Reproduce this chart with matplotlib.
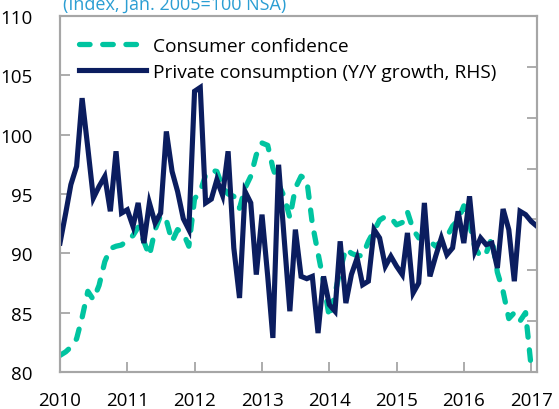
import matplotlib
matplotlib.use("Agg")
import matplotlib.pyplot as plt
import matplotlib.dates as mdates
import pandas as pd

plt.rcParams['font.family'] = ['Open Sans', 'DejaVu Sans']

# monthly data, Jan 2010 onwards
start = '2010-01-01'

# consumer confidence (index, LHS), Jan 2010 - Jan 2017
confidence = [81.4, 81.7, 82.1, 82.8, 84.6, 86.8, 86.1, 87.3, 89.3, 90.4, 90.6, 90.7,
              91.1, 91.5, 92.2, 91.0, 89.8, 92.0, 93.2, 92.8, 91.0, 92.0, 91.7, 90.6,
              94.6, 95.2, 96.6, 97.0, 96.9, 95.6, 95.0, 94.8, 93.8, 95.5, 96.5, 98.3,
              99.3, 99.1, 97.2, 95.8, 94.8, 93.0, 95.5, 96.5, 96.2, 92.5, 90.0, 87.6,
              84.6, 86.6, 88.6, 90.4, 90.0, 89.8, 89.8, 91.0, 91.9, 92.8, 93.1, 93.0,
              92.4, 92.6, 93.5, 92.0, 91.3, 91.5, 91.0, 90.6, 91.0, 91.4, 92.3, 92.8,
              94.0, 92.5, 90.5, 89.7, 90.0, 91.3, 88.4, 86.8, 84.5, 85.0, 84.3, 85.0,
              80.3]

# private consumption, Y/Y growth % (RHS), Jan 2010 - Feb 2017
consumption = [1.07, 2.25, 3.37, 4.09, 6.77, 4.81, 2.84, 3.30, 3.69, 2.32, 4.68, 2.25,
               2.38, 1.73, 2.65, 1.07, 2.65, 1.86, 2.25, 5.46, 3.89, 3.10, 2.03, 1.60,
               7.04, 7.19, 2.65, 2.80, 3.56, 2.95, 4.68, 0.88, -1.09, 3.10, 2.65, -0.17,
               2.19, -0.24, -2.66, 4.15, 1.27, -1.61, 1.60, -0.24, -0.33, -0.24, -2.47, -0.24,
               -1.35, -1.61, 1.14, -1.29, -0.17, 0.48, -0.57, -0.43, 1.60, 1.27, 0.16, 0.55,
               0.16, -0.17, 1.47, -0.89, -0.50, 2.65, -0.24, 0.55, 1.27, 0.61, 0.88, 2.32,
               1.07, 2.91, 0.75, 1.27, 1.01, 1.07, 0.09, 2.41, 1.60, -0.43, 2.32, 2.19,
               1.92, 1.73]

dates_cc = pd.date_range(start, periods=len(confidence), freq='MS')
dates_pc = pd.date_range(start, periods=len(consumption), freq='MS')

left_ticks = [80, 85, 90, 95, 100, 105, 110]
right_ticks = [-4, -2, 0, 2, 4, 6, 8, 10]
years = [2010, 2011, 2012, 2013, 2014, 2015, 2016, 2017]

green = '#00C4A0'
navy = '#0B1D5F'
grey = '#A6A6A6'

fig = plt.figure(figsize=(5.59, 4.10), dpi=100)
ax = fig.add_axes([60 / 559, 1 - 373 / 410, 477 / 559, 356 / 410])
ax2 = ax.twinx()

cc_line, = ax.plot(dates_cc, confidence, color=green, lw=3.8,
                   dash_capstyle='round', label='Consumer confidence')
cc_line.set_dashes((2.0, 2.4))
pc_line, = ax2.plot(dates_pc, consumption, color=navy, lw=3.7,
                    solid_joinstyle='miter', label='Private consumption (Y/Y growth, RHS)')

ax.set_ylim(80, 110)
ax.set_yticks(left_ticks)
ax2.set_ylim(-4, 10)
ax2.set_yticks(right_ticks)
ax2.tick_params(axis='y', labelright=False)

ax.set_xlim(pd.Timestamp('2010-01-01'), pd.Timestamp('2017-02-01'))
ax.set_xticks([pd.Timestamp(f'{y}-01-01') for y in years])
ax.xaxis.set_major_formatter(mdates.DateFormatter('%Y'))

for a in (ax, ax2):
    for s in a.spines.values():
        s.set_color(grey)
        s.set_linewidth(1.5)
    a.tick_params(direction='in', length=7, width=1.3, color=grey, labelsize=13.5)
ax.tick_params(axis='y', pad=20)
ax.tick_params(axis='x', pad=14)

leg = ax.legend(handles=[cc_line, pc_line], loc='upper left', frameon=False,
                bbox_to_anchor=(19 / 477, 1 - 21 / 356), borderaxespad=0, borderpad=0,
                handlelength=3.5, handletextpad=0.35, labelspacing=0.4, fontsize=13.8)

fig.text(63 / 559, 1 - 10 / 410, '(Index, Jan. 2005=100 NSA)', color='#2B9ED3',
         fontsize=13, va='baseline', ha='left')

fig.savefig('out.png', dpi=100)
